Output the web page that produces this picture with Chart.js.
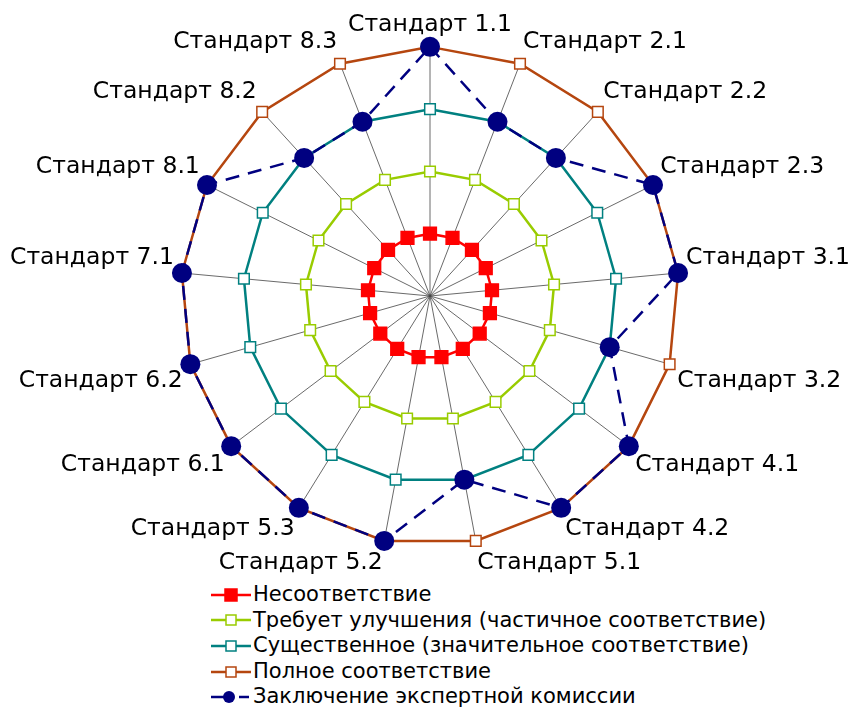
<!DOCTYPE html>
<html lang="ru">
<head>
  <meta charset="UTF-8">
  <title>Радар стандартов</title>
  <script src="https://cdn.jsdelivr.net/npm/chart.js"></script>
  <style>
    body { margin: 0; background: #fff; font-family: "DejaVu Sans", sans-serif; }
    #wrap { position: absolute; left: 0; top: 0; width: 851px; height: 582px; }
    #legend { position: absolute; left: 211px; top: 582px; font-size: 21px; color: #000; }
    #legend div { height: 25.6px; line-height: 25.6px; display: flex; align-items: center; white-space: nowrap; }
    #legend svg { margin-right: 2px; }
  </style>
</head>
<body>
  <div id="wrap"><canvas id="radar"></canvas></div>
  <div id="legend"></div>

  <script>
    const standards = ["Стандарт 1.1", "Стандарт 2.1", "Стандарт 2.2", "Стандарт 2.3", "Стандарт 3.1",
      "Стандарт 3.2", "Стандарт 4.1", "Стандарт 4.2", "Стандарт 5.1", "Стандарт 5.2", "Стандарт 5.3",
      "Стандарт 6.1", "Стандарт 6.2", "Стандарт 7.1", "Стандарт 8.1", "Стандарт 8.2", "Стандарт 8.3"];
    const nonCompliance   = [1, 1, 1, 1, 1, 1, 1, 1, 1, 1, 1, 1, 1, 1, 1, 1, 1];
    const needsImprove    = [2, 2, 2, 2, 2, 2, 2, 2, 2, 2, 2, 2, 2, 2, 2, 2, 2];
    const substantial     = [3, 3, 3, 3, 3, 3, 3, 3, 3, 3, 3, 3, 3, 3, 3, 3, 3];
    const fullCompliance  = [4, 4, 4, 4, 4, 4, 4, 4, 4, 4, 4, 4, 4, 4, 4, 4, 4];
    const expertOpinion   = [4, 3, 3, 4, 4, 3, 4, 4, 3, 4, 4, 4, 4, 4, 4, 3, 3];

    const series = [
      { label: "Несоответствие", data: nonCompliance, color: "#ff0000", fill: "#ff0000", style: "rect", r: 9, order: 4 },
      { label: "Требует улучшения (частичное соответствие)", data: needsImprove, color: "#99cc00", fill: "#ffffff", style: "rect", r: 7.5, order: 3 },
      { label: "Существенное (значительное соответствие)", data: substantial, color: "#008080", fill: "#ffffff", style: "rect", r: 7.5, order: 2 },
      { label: "Полное соответствие", data: fullCompliance, color: "#b5460f", fill: "#ffffff", style: "rect", r: 7.5, order: 1 },
      { label: "Заключение экспертной комиссии", data: expertOpinion, color: "#000080", fill: "#000080", style: "circle", r: 10, order: 0, dash: [14, 9] }
    ];

    new Chart(document.getElementById("radar"), {
      type: "radar",
      data: {
        labels: standards,
        datasets: series.map(s => ({
          label: s.label,
          data: s.data,
          borderColor: s.color,
          backgroundColor: s.fill,
          borderWidth: 2.5,
          borderDash: s.dash || [],
          fill: false,
          order: s.order,
          pointStyle: s.style,
          pointRadius: s.r,
          pointBorderWidth: s.style === "circle" ? 0 : 1.5,
          pointBorderColor: s.color,
          pointBackgroundColor: s.fill
        }))
      },
      options: {
        responsive: true,
        maintainAspectRatio: false,
        animation: false,
        layout: { padding: { top: 6, bottom: 0, left: 10, right: 0 } },
        plugins: { legend: { display: false }, tooltip: { enabled: false } },
        scales: {
          r: {
            min: 0,
            max: 4,
            ticks: { display: false, stepSize: 1 },
            grid: { display: false },
            angleLines: { color: "#444", lineWidth: 0.8 },
            pointLabels: { color: "#000", padding: 8, font: { family: "DejaVu Sans", size: 23.5 } }
          }
        }
      }
    });

    // legend: one line per series, line with marker in the middle
    const legend = document.getElementById("legend");
    series.forEach(s => {
      const row = document.createElement("div");
      let marker;
      if (s.style === "circle") {
        marker = `<line x1="0" y1="10" x2="14" y2="10" stroke="${s.color}" stroke-width="2.5"/>
          <line x1="28" y1="10" x2="38" y2="10" stroke="${s.color}" stroke-width="2.5"/>
          <circle cx="18" cy="10" r="6" fill="${s.color}"/>`;
      } else {
        const h = s.fill === s.color ? 6 : 5;
        marker = `<line x1="0" y1="10" x2="40" y2="10" stroke="${s.color}" stroke-width="2.5"/>
          <rect x="${20 - h}" y="${10 - h}" width="${2 * h}" height="${2 * h}" fill="${s.fill}" stroke="${s.color}" stroke-width="1.5"/>`;
      }
      row.innerHTML = `<svg width="40" height="20">${marker}</svg><span>${s.label}</span>`;
      legend.appendChild(row);
    });
  </script>
</body>
</html>
